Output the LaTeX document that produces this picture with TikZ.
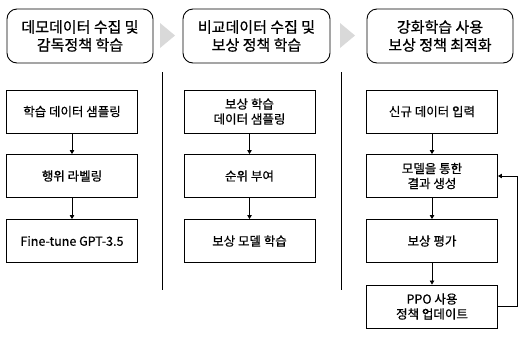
\documentclass[tikz,border=0pt]{standalone}
\usepackage{fontspec}
\setmainfont{Noto Sans CJK KR}
\newfontfamily\krfont[FakeBold=0.6]{Noto Sans CJK KR}
\usetikzlibrary{arrows.meta}
\tikzset{
  hdr/.style={draw, line width=0.9pt, rounded corners=10pt, minimum width=146pt, minimum height=54pt, inner sep=0pt, align=center, font=\krfont\fontsize{15}{18}\selectfont},
  stepbox/.style={draw, line width=0.9pt, minimum width=131pt, minimum height=43pt, inner sep=0pt, align=center, font=\krfont\fontsize{12.5}{15}\selectfont},
  flow/.style={line width=0.8pt, -{Triangle[length=4pt, width=4.5pt]}},
  sep/.style={line width=1pt},
  chev/.style={fill=black!15, draw=none}
}
\begin{document}
\begin{tikzpicture}[x=1pt,y=-1pt]
\useasboundingbox (0,0) rectangle (525,338);
\fill[white] (0,0) rectangle (525,338);
% headers
\node[hdr] (h1) at (80,36) {데모데이터 수집 및\\감독정책 학습};
\node[hdr, minimum width=147pt] (h2) at (256.5,36) {비교데이터 수집 및\\보상 정책 학습};
\node[hdr] (h3) at (440,36) {강화학습 사용\\보상 정책 최적화};
% chevrons
\fill[chev] (160,23) -- (175,35.5) -- (160,48) -- cycle;
\fill[chev] (340,23) -- (355,35.5) -- (340,48) -- cycle;
% separators
\coordinate (s1a) at (162,72); \coordinate (s1b) at (162,290);
\coordinate (s2a) at (341,72); \coordinate (s2b) at (341,290);
\draw[sep] (s1a) -- (s1b);
\draw[sep] (s2a) -- (s2b);
% left column
\node[stepbox] (l1) at (72,111.5) {학습 데이터 샘플링};
\node[stepbox] (l2) at (72,176) {행위 라벨링};
\node[stepbox] (l3) at (72,241) {Fine-tune GPT-3.5};
% middle column
\node[stepbox] (m1) at (249.5,111.5) {보상 학습\\데이터 샘플링};
\node[stepbox] (m2) at (249.5,176) {순위 부여};
\node[stepbox] (m3) at (249.5,241) {보상 모델 학습};
% right column
\node[stepbox] (r1) at (432,111.5) {신규 데이터 입력};
\node[stepbox] (r2) at (432,176) {모델을 통한\\결과 생성};
\node[stepbox] (r3) at (432,241) {보상 평가};
\node[stepbox] (r4) at (432,306.5) {PPO 사용\\정책 업데이트};
% arrows
\draw[flow] (l1) -- (l2);
\draw[flow] (l2) -- (l3);
\draw[flow] (m1) -- (m2);
\draw[flow] (m2) -- (m3);
\draw[flow] (r1) -- (r2);
\draw[flow] (r2) -- (r3);
\draw[flow] (r3) -- (r4);
\draw[flow] (r4.east) -- ++(19,0) |- (r2.east);
\end{tikzpicture}
\end{document}
